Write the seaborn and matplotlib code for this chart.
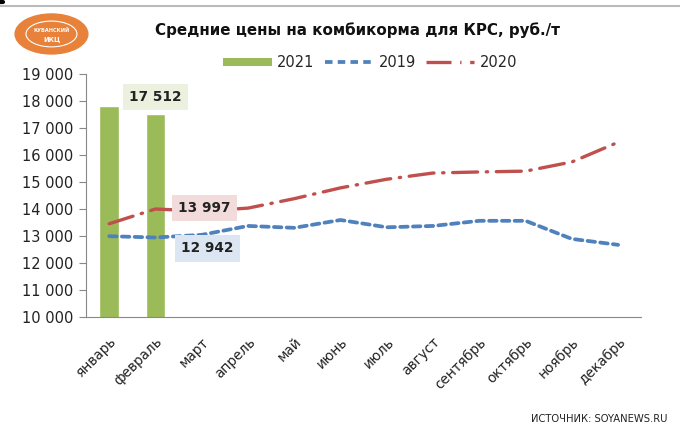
import numpy as np
import matplotlib
matplotlib.use("Agg")
import matplotlib.pyplot as plt
import matplotlib.transforms as mtransforms
import seaborn as sns
from matplotlib.patches import Ellipse, Patch
from matplotlib.lines import Line2D

# ======= DATA =======
months = ["январь", "февраль", "март", "апрель", "май", "июнь", "июль",
          "август", "сентябрь", "октябрь", "ноябрь", "декабрь"]
price_2021 = [17800, 17512]
price_2019 = [12990, 12942, 13040, 13370, 13300, 13590, 13320, 13370,
              13560, 13560, 12890, 12670]
price_2020 = [13450, 13997, 13920, 14030, 14380, 14780, 15100, 15330,
              15370, 15400, 15740, 16470]
y_ticks = list(range(10000, 19001, 1000))
# ====================

GREEN = "#9BBB59"
BLUE = "#4F81BD"
RED = "#C0504D"

sns.set_style("white")
plt.rcParams["font.family"] = ["DejaVu Sans"]

fig = plt.figure(figsize=(6.8, 4.3), dpi=100)
ax = fig.add_axes([0.1265, 0.263, 0.8165, 0.565])

x = np.arange(len(months))

sns.barplot(x=months[:2], y=price_2021, order=months, color=GREEN,
            width=0.42, saturation=1, ax=ax)
sns.lineplot(x=x, y=price_2019, color=BLUE, lw=2.7, ax=ax,
             linestyle=(0, (2.0, 1.4)), dash_capstyle="round")
sns.lineplot(x=x, y=price_2020, color=RED, lw=2.4, ax=ax,
             linestyle=(0, (7.5, 2.6, 0.4, 2.6)), dash_capstyle="round")

ax.set_xlim(-0.5, len(months) - 0.5)
ax.set_ylim(10000, 19000)
ax.set_yticks(y_ticks)
ax.set_yticklabels([f"{v:,}".replace(",", " ") for v in y_ticks],
                   fontsize=10.5, color="#222222")
ax.set_xticks(x)
ax.set_xticklabels(months, rotation=45, ha="right", rotation_mode="anchor",
                   fontsize=9.8, color="#222222")
# shift the rotated labels a few pixels right, as in the original
shift = mtransforms.ScaledTranslation(5 / 100, 0, fig.dpi_scale_trans)
for lab in ax.get_xticklabels():
    lab.set_transform(lab.get_transform() + shift)
ax.set_xticks(np.arange(-0.5, len(months)), minor=True)
ax.tick_params(axis="x", which="major", length=0, pad=13)
ax.tick_params(axis="x", which="minor", length=5, color="#888888", width=0.8)
ax.tick_params(axis="y", length=5, color="#888888", width=0.8, pad=4,
               left=True, direction="out")
ax.set_xlabel("")
ax.set_ylabel("")
for side in ["top", "right"]:
    ax.spines[side].set_visible(False)
for side in ["left", "bottom"]:
    ax.spines[side].set_color("#888888")
    ax.spines[side].set_linewidth(0.8)

# value labels
box = dict(boxstyle="square,pad=0.45", ec="none")
ax.text(1.0, 18150, "17 512", ha="center", va="center", fontsize=9.8,
        fontweight="bold", color="#222222", bbox=dict(box, fc="#EBF1DE"))
ax.text(2.06, 14040, "13 997", ha="center", va="center", fontsize=9.8,
        fontweight="bold", color="#222222", bbox=dict(box, fc="#F2DCDB"))
ax.text(2.12, 12535, "12 942", ha="center", va="center", fontsize=9.8,
        fontweight="bold", color="#222222", bbox=dict(box, fc="#DCE6F2"))

# title
fig.text(0.526, 0.93, "Средние цены на комбикорма для КРС, руб./т",
         ha="center", va="center", fontsize=10.9, fontweight="bold",
         color="#111111")

# legend
handles = [
    Patch(facecolor=GREEN, edgecolor="none"),
    Line2D([], [], color=BLUE, lw=2.7, linestyle=(0, (2.0, 1.4))),
    Line2D([], [], color=RED, lw=2.4, linestyle=(0, (7.5, 2.6, 0.4, 2.6))),
]
fig.legend(handles, ["2021", "2019", "2020"], loc="center",
           bbox_to_anchor=(0.545, 0.855), ncol=3, frameon=False,
           fontsize=10.5, handlelength=3.3, handleheight=0.45,
           columnspacing=0.7, handletextpad=0.4)

# header line and logo
fig.add_artist(Line2D([0, 1], [0.985, 0.985], color="#BBBBBB", lw=1.5))
fig.add_artist(Line2D([0, 0.005], [0.995, 0.995], color="black", lw=3))
fig.add_artist(Ellipse((0.0757, 0.921), 0.107, 0.093, color="#E8823A",
                       transform=fig.transFigure))
fig.add_artist(Ellipse((0.0757, 0.921), 0.075, 0.06, fc="none", ec="white",
                       lw=0.8, transform=fig.transFigure))
fig.text(0.0757, 0.93, "КУБАНСКИЙ", ha="center", va="center", fontsize=3.6,
         fontweight="bold", color="white")
fig.text(0.0757, 0.908, "ИКЦ", ha="center", va="center", fontsize=4.8,
         fontweight="bold", color="white")

# source
fig.text(0.982, 0.015, "ИСТОЧНИК: SOYANEWS.RU", ha="right", va="bottom",
         fontsize=7.2, color="#222222")

fig.savefig("out.png", dpi=100)
